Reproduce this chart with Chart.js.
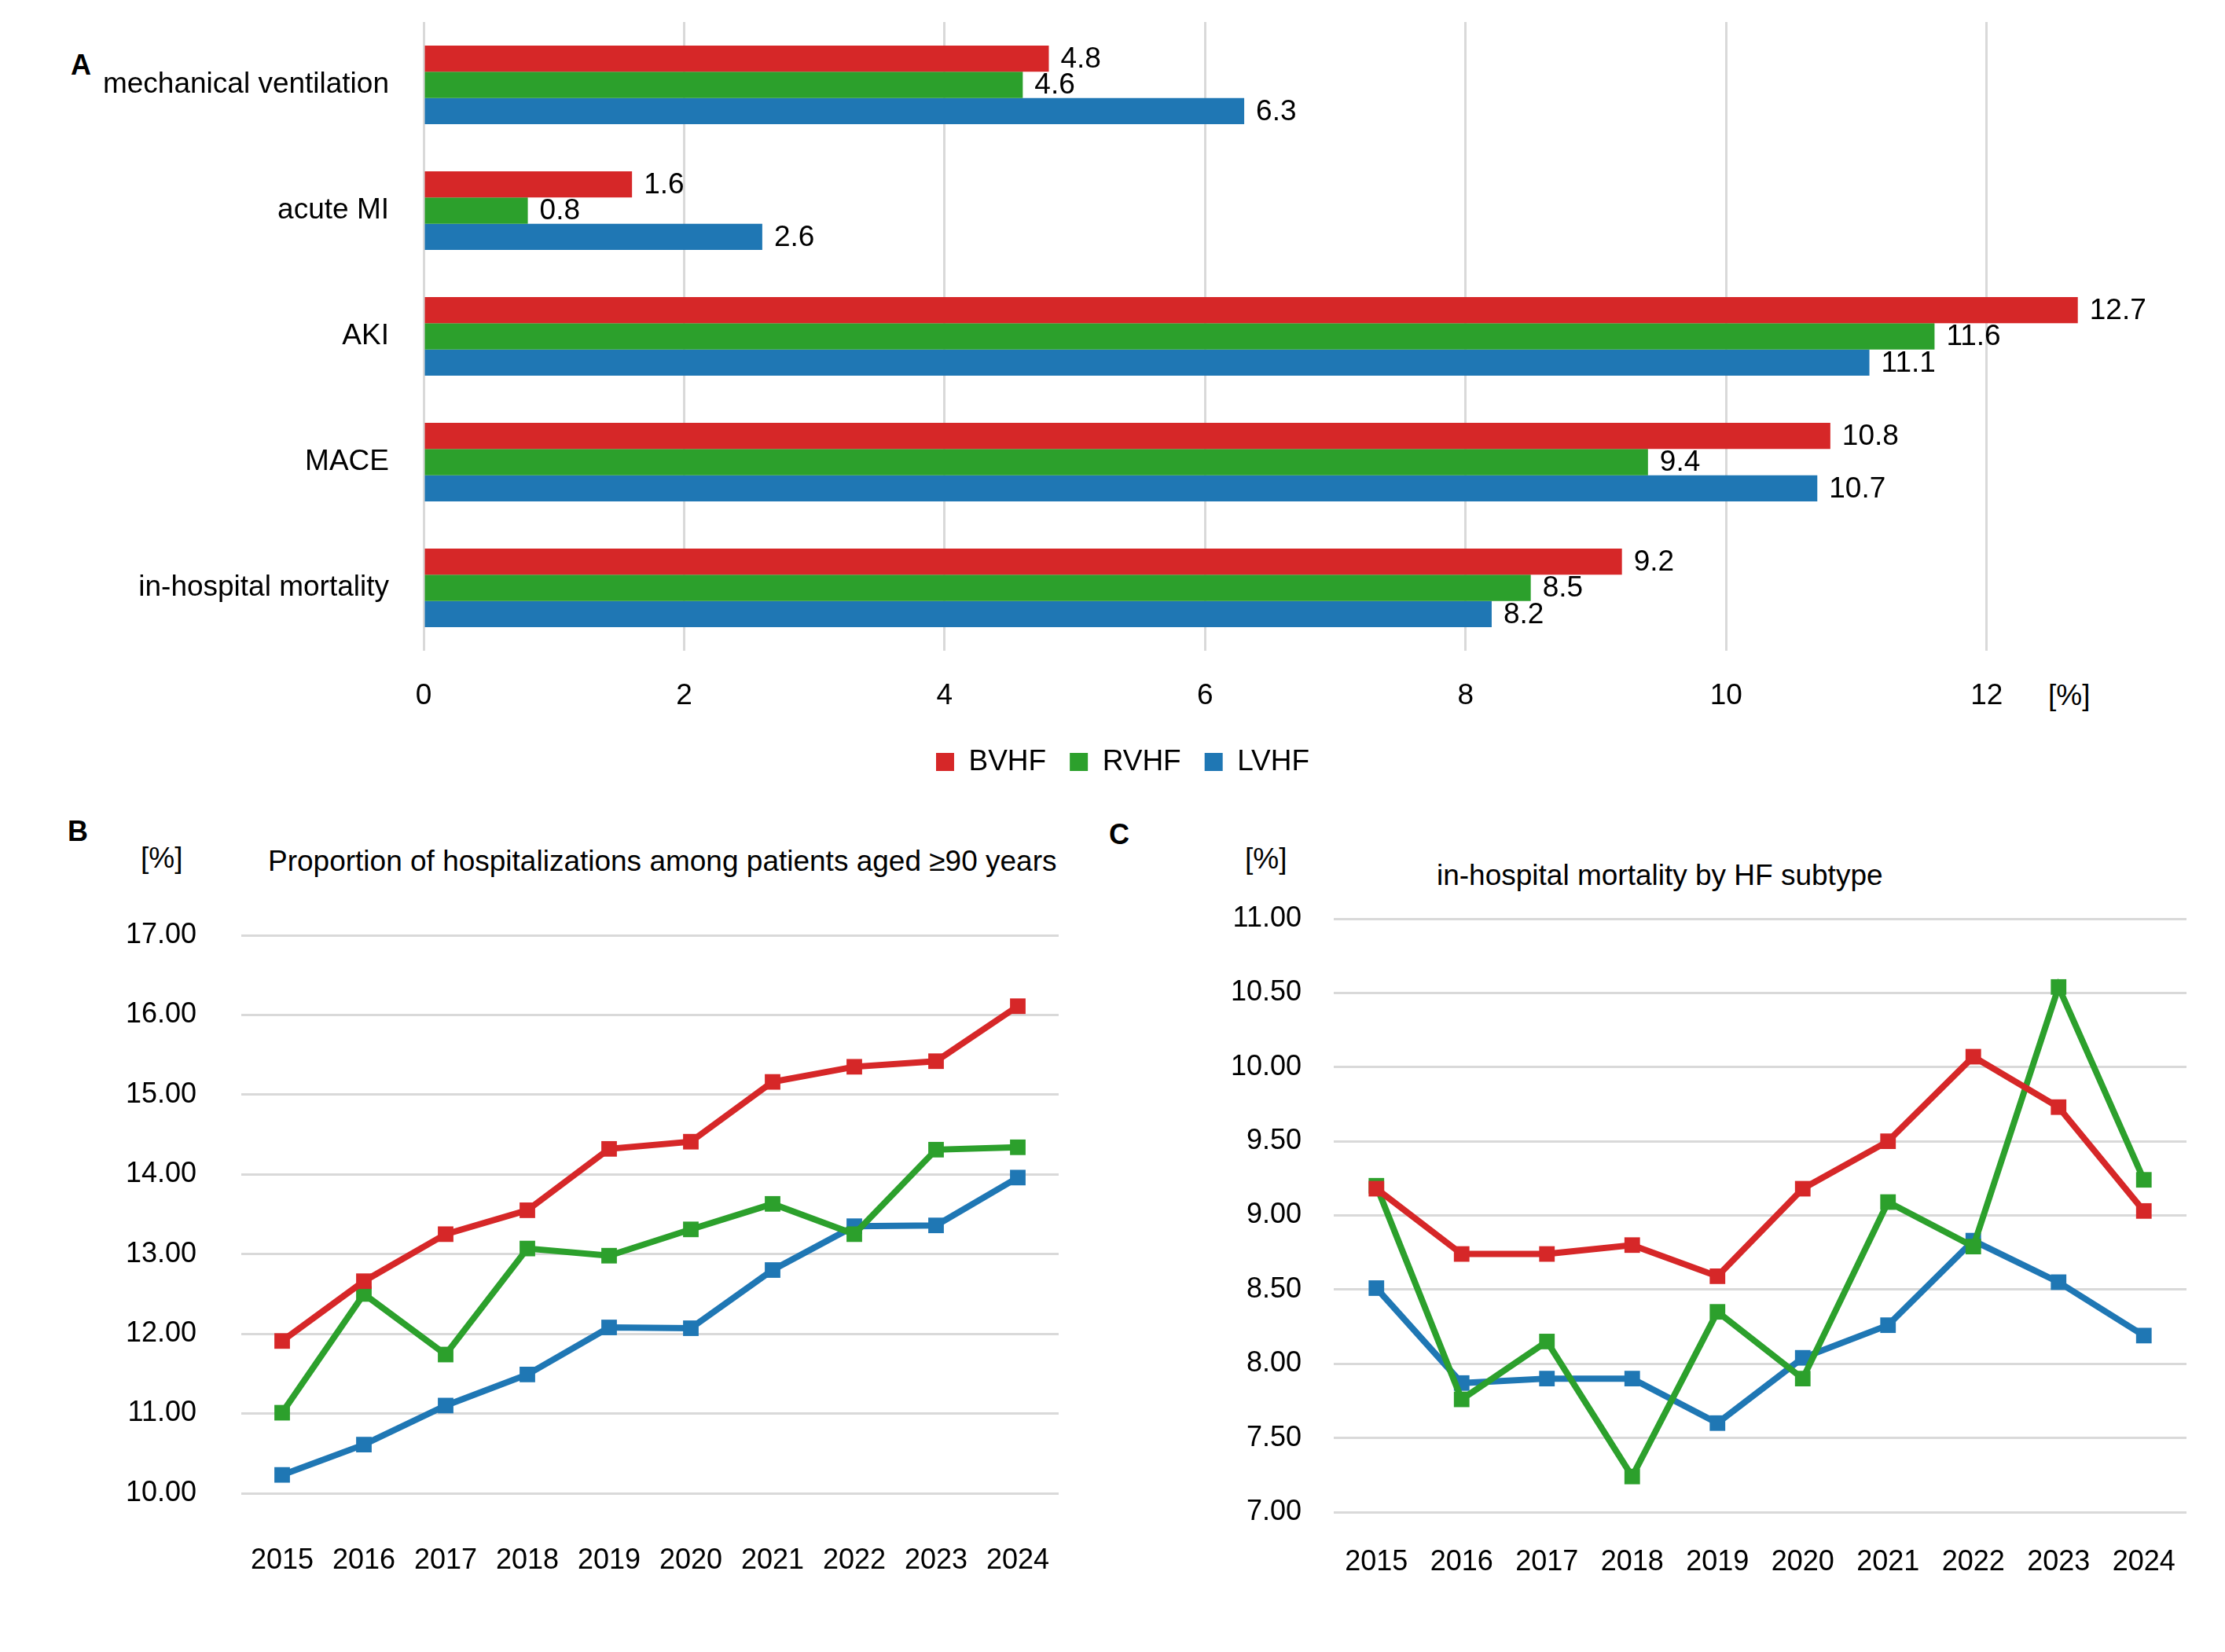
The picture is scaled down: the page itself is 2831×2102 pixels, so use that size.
<!DOCTYPE html>
<html>
<head>
<meta charset="utf-8">
<script src="https://cdn.jsdelivr.net/npm/chart.js@4"></script>
<style>
  body { margin: 0; background: #fff; width: 2831px; height: 2102px; position: relative; overflow: hidden;
         font-family: "Liberation Sans", Arial, sans-serif; color: #000; }
  canvas { position: absolute; }
  .txt { position: absolute; font-size: 37px; line-height: 42px; white-space: nowrap; }
  .panel { font-weight: bold; font-size: 36px; }
</style>
</head>
<body>
<div class="txt panel" style="left:90px; top:62px;">A</div>
<div class="txt panel" style="left:86px; top:1037px;">B</div>
<div class="txt panel" style="left:1411px; top:1041px;">C</div>
<div class="txt" style="left:2606px; top:864px;">[%]</div>
<div class="txt" style="left:179px; top:1071px;">[%]</div>
<div class="txt" style="left:341px; top:1075px;">Proportion of hospitalizations among patients aged ≥90 years</div>
<div class="txt" style="left:1584px; top:1072px;">[%]</div>
<div class="txt" style="left:1828px; top:1093px;">in-hospital mortality by HF subtype</div>

<canvas id="chartA" width="2831" height="998" style="left:0; top:0; width:2831px; height:998px;"></canvas>
<canvas id="chartB" width="1420" height="900" style="left:0; top:1130px; width:1420px; height:900px;"></canvas>
<canvas id="chartC" width="1416" height="900" style="left:1415px; top:1130px; width:1416px; height:900px;"></canvas>

<script>
// panel A - outcomes by HF subtype [%]
var outcomes = ['mechanical ventilation', 'acute MI', 'AKI', 'MACE', 'in-hospital mortality'];
var bvhfOutcomes = [4.8, 1.6, 12.7, 10.8, 9.2];
var rvhfOutcomes = [4.6, 0.8, 11.6, 9.4, 8.5];
var lvhfOutcomes = [6.3, 2.6, 11.1, 10.7, 8.2];

// panel B and C - yearly series
var years = ['2015', '2016', '2017', '2018', '2019', '2020', '2021', '2022', '2023', '2024'];
var bvhfAged90 = [11.91, 12.66, 13.25, 13.55, 14.32, 14.41, 15.16, 15.35, 15.42, 16.11];
var rvhfAged90 = [11.01, 12.50, 11.74, 13.07, 12.98, 13.31, 13.63, 13.25, 14.31, 14.34];
var lvhfAged90 = [10.23, 10.61, 11.10, 11.49, 12.08, 12.07, 12.80, 13.35, 13.36, 13.96];

var bvhfMortality = [9.18, 8.74, 8.74, 8.80, 8.59, 9.18, 9.50, 10.07, 9.73, 9.03];
var rvhfMortality = [9.20, 7.76, 8.15, 7.24, 8.35, 7.90, 9.09, 8.79, 10.54, 9.24];
var lvhfMortality = [8.51, 7.87, 7.90, 7.90, 7.60, 8.04, 8.26, 8.83, 8.55, 8.19];

var RED = '#d62728';
var GREEN = '#2ca02c';
var BLUE = '#1f77b4';
var GRID = '#d9d9d9';
var FONT = '"Liberation Sans", Arial, sans-serif';

Chart.defaults.color = '#000';
Chart.defaults.font.family = FONT;
Chart.defaults.font.size = 37;
Chart.defaults.animation = false;

// value labels at the end of every bar
var barValueLabels = {
  id: 'barValueLabels',
  afterDatasetsDraw: function(chart) {
    var ctx = chart.ctx;
    ctx.save();
    ctx.font = '37px ' + FONT;
    ctx.fillStyle = '#000';
    ctx.textAlign = 'left';
    ctx.textBaseline = 'middle';
    chart.data.datasets.forEach(function(ds, i) {
      chart.getDatasetMeta(i).data.forEach(function(bar, j) {
        ctx.fillText(ds.data[j].toFixed(1), bar.x + 15, bar.y + 1);
      });
    });
    ctx.restore();
  }
};

// gap between y labels and plot is made with an invisible tick mark,
// ticks.padding would also push the chart area down
function hiddenTicks(len, showGrid) {
  return {
    display: true,
    drawOnChartArea: showGrid,
    color: GRID, lineWidth: 3,
    drawTicks: true, tickLength: len, tickColor: 'rgba(0,0,0,0)'
  };
}

var chartA = new Chart(document.getElementById('chartA'), {
  type: 'bar',
  data: {
    labels: outcomes,
    datasets: [
      { label: 'BVHF', data: bvhfOutcomes, backgroundColor: RED },
      { label: 'RVHF', data: rvhfOutcomes, backgroundColor: GREEN },
      { label: 'LVHF', data: lvhfOutcomes, backgroundColor: BLUE }
    ]
  },
  options: {
    indexAxis: 'y',
    responsive: false,
    devicePixelRatio: 1,
    layout: { padding: { top: 28, right: 0, left: 26, bottom: 0 } },
    categoryPercentage: 0.625,
    barPercentage: 1,
    scales: {
      x: {
        min: 0, max: 13.83,
        grid: { color: GRID, lineWidth: 3, drawTicks: false },
        border: { display: false },
        ticks: { stepSize: 2, includeBounds: false, padding: 36, font: { size: 37 } },
        afterFit: function(scale) { scale.height = 93; }
      },
      y: {
        grid: hiddenTicks(44, false),
        border: { display: false },
        ticks: { padding: 0, font: { size: 37 } },
        afterFit: function(scale) { scale.width = 513; }
      }
    },
    plugins: {
      legend: {
        position: 'bottom',
        labels: { boxWidth: 23, boxHeight: 23, padding: 30, font: { size: 37 } }
      },
      tooltip: { enabled: false }
    }
  },
  plugins: [barValueLabels]
});

function lineSet(label, data, color) {
  return {
    label: label, data: data,
    borderColor: color, backgroundColor: color,
    borderWidth: 8, tension: 0,
    pointStyle: 'rect', pointRadius: 14,
    pointBackgroundColor: color, pointBorderWidth: 0
  };
}

var chartB = new Chart(document.getElementById('chartB'), {
  type: 'line',
  data: {
    labels: years,
    datasets: [
      lineSet('BVHF', bvhfAged90, RED),
      lineSet('RVHF', rvhfAged90, GREEN),
      lineSet('LVHF', lvhfAged90, BLUE)
    ]
  },
  options: {
    responsive: false,
    devicePixelRatio: 1,
    layout: { padding: { top: 60, right: 73, left: 0, bottom: 0 } },
    scales: {
      x: {
        offset: true,
        grid: { display: false },
        border: { display: false },
        ticks: { padding: 56, font: { size: 36 }, maxRotation: 0 },
        afterFit: function(scale) { scale.height = 130; }
      },
      y: {
        min: 10, max: 17,
        grid: hiddenTicks(57, true),
        border: { display: false },
        ticks: { stepSize: 1, padding: 0, font: { size: 36 },
                 callback: function(v) { return v.toFixed(2); } },
        afterFit: function(scale) { scale.width = 307; }
      }
    },
    plugins: { legend: { display: false }, tooltip: { enabled: false } }
  }
});

var chartC = new Chart(document.getElementById('chartC'), {
  type: 'line',
  data: {
    labels: years,
    datasets: [
      lineSet('BVHF', bvhfMortality, RED),
      lineSet('RVHF', rvhfMortality, GREEN),
      lineSet('LVHF', lvhfMortality, BLUE)
    ]
  },
  options: {
    responsive: false,
    devicePixelRatio: 1,
    layout: { padding: { top: 39, right: 49, left: 0, bottom: 0 } },
    scales: {
      x: {
        offset: true,
        grid: { display: false },
        border: { display: false },
        ticks: { padding: 34, font: { size: 36 }, maxRotation: 0 },
        afterFit: function(scale) { scale.height = 106; }
      },
      y: {
        min: 7, max: 11,
        grid: hiddenTicks(41, true),
        border: { display: false },
        ticks: { stepSize: 0.5, padding: 0, font: { size: 36 },
                 callback: function(v) { return v.toFixed(2); } },
        afterFit: function(scale) { scale.width = 282; }
      }
    },
    plugins: { legend: { display: false }, tooltip: { enabled: false } }
  }
});
</script>
</body>
</html>
